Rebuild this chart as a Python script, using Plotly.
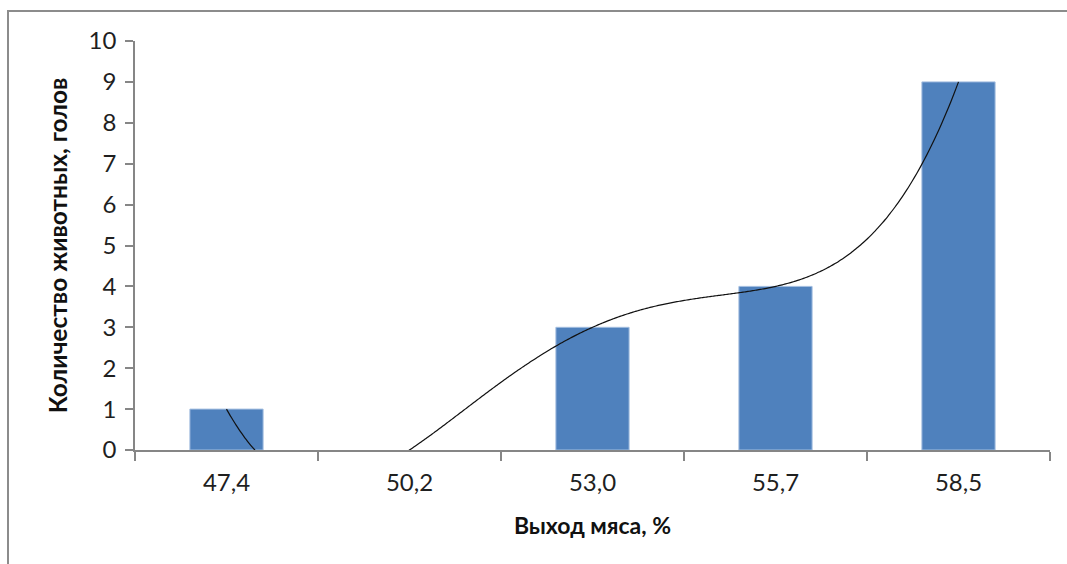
import numpy as np
import plotly.graph_objects as go

# Meat yield classes (%) and number of animals in each class
categories = ["47,4", "50,2", "53,0", "55,7", "58,5"]
counts = [1, 0, 3, 4, 9]

# 4th-order polynomial trend line through the bar heights (category index 0..4)
idx = np.arange(len(counts))
coef = np.polyfit(idx, counts, 4)
xs = np.linspace(0, len(counts) - 1, 300)
ys = np.polyval(coef, xs)

W, H = 1067, 564
L, R, T, B = 135, 17, 41, 114
pw, ph = W - L - R, H - T - B

AXIS = "#868686"
FONT = "Lato"
TICK_COLOR = "#1f1f1f"

fig = go.Figure()
fig.add_trace(go.Bar(
    x=categories, y=counts,
    marker=dict(color="#4F81BD",
                line=dict(color="#A3BEE0", width=[1 if c > 0 else 0 for c in counts])),
    showlegend=False, hoverinfo="x+y",
))
fig.add_trace(go.Scatter(
    x=xs, y=ys, xaxis="x2", mode="lines",
    line=dict(color="#111111", width=1.2, shape="spline"),
    showlegend=False, hoverinfo="skip",
))

fig.update_layout(
    width=W, height=H,
    margin=dict(l=L, r=R, t=T, b=B),
    paper_bgcolor="white", plot_bgcolor="white",
    bargap=0.6,
    font=dict(family=FONT, color=TICK_COLOR),
    xaxis=dict(
        type="category", tickson="boundaries",
        showline=True, linecolor=AXIS, linewidth=1.5,
        ticks="outside", ticklen=9, tickcolor=AXIS, tickwidth=1.5,
        tickfont=dict(size=24, family=FONT, color=TICK_COLOR),
        ticklabelstandoff=10,
        showgrid=False, zeroline=False,
        title=dict(text="<b>Выход мяса, %</b>", font=dict(size=23, family=FONT, color="#111111"), standoff=23),
    ),
    xaxis2=dict(
        overlaying="x", range=[-0.5, len(counts) - 0.5],
        visible=False, showgrid=False, zeroline=False,
    ),
    yaxis=dict(
        range=[0, 10], dtick=1, tick0=0,
        showline=True, linecolor=AXIS, linewidth=1.5,
        ticks="outside", ticklen=8, tickcolor=AXIS, tickwidth=1.5,
        tickfont=dict(size=24, family=FONT, color=TICK_COLOR),
        ticklabelstandoff=4,
        showgrid=False, zeroline=False,
        title=dict(text="<b>Количество животных, голов</b>", font=dict(size=24.5, family=FONT, color="#111111"), standoff=14),
    ),
    shapes=[dict(
        type="rect", xref="paper", yref="paper",
        x0=(8 - L) / pw, x1=(W + 20 - L) / pw,
        y0=-(H + 20 - T - ph) / ph, y1=(H - B - 11) / ph,
        line=dict(color="#8C8C8C", width=2), fillcolor="rgba(0,0,0,0)", layer="below",
    )],
)

fig.write_html("out.html")
